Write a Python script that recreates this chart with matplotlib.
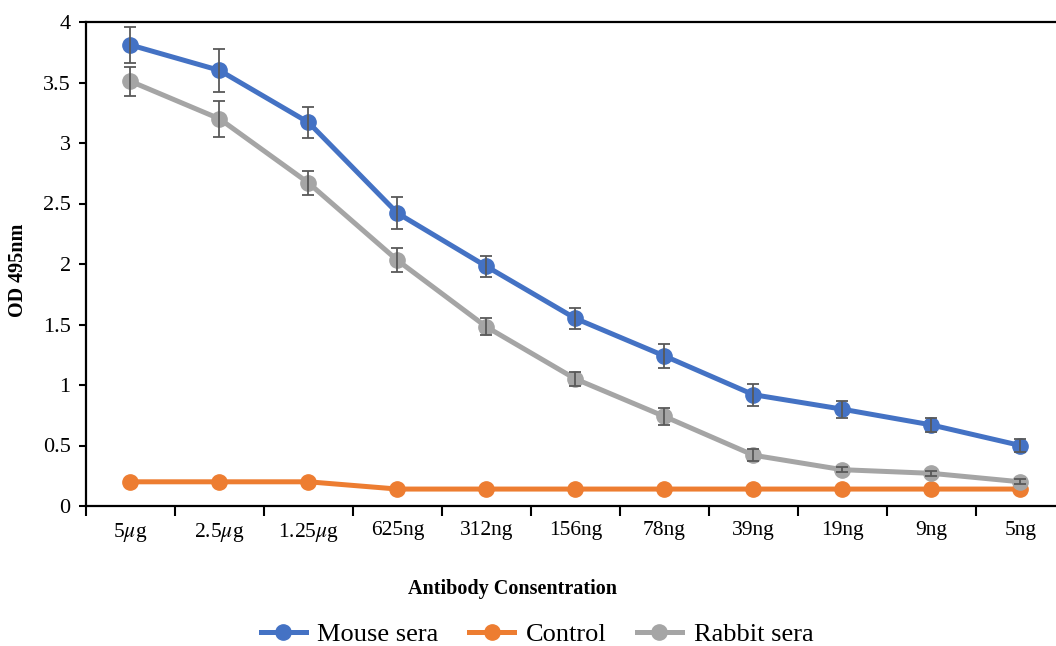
import numpy as np
import matplotlib
matplotlib.use("Agg")
import matplotlib.pyplot as plt

plt.rcParams['font.family'] = ['Liberation Serif', 'DejaVu Serif']
plt.rcParams['mathtext.fontset'] = 'stix'

# Data
concentrations = ['5$\\mu$g', '2.5$\\mu$g', '1.25$\\mu$g', '625ng', '312ng', '156ng',
                  '78ng', '39ng', '19ng', '9ng', '5ng']
mouse = [3.81, 3.60, 3.17, 2.42, 1.98, 1.55, 1.24, 0.92, 0.80, 0.67, 0.50]
mouse_err = [0.15, 0.18, 0.13, 0.13, 0.09, 0.09, 0.10, 0.09, 0.07, 0.06, 0.05]
control = [0.20, 0.20, 0.20, 0.14, 0.14, 0.14, 0.14, 0.14, 0.14, 0.14, 0.14]
rabbit = [3.51, 3.20, 2.67, 2.03, 1.48, 1.05, 0.74, 0.42, 0.30, 0.27, 0.20]
rabbit_err = [0.12, 0.15, 0.10, 0.10, 0.07, 0.06, 0.07, 0.05, 0.02, 0.02, 0.02]

blue = '#4472C4'
orange = '#ED7D31'
gray = '#A5A5A5'
err_color = '#595959'

fig = plt.figure(figsize=(10.56, 6.46), dpi=100)
ax = fig.add_axes([86 / 1056, 1 - 506 / 646, 1 - 86 / 1056, (506 - 22) / 646])

x = np.arange(len(concentrations))

ax.plot(x, mouse, color=blue, lw=3.6, marker='o', ms=11, label='Mouse sera', zorder=3)
ax.plot(x, control, color=orange, lw=3.6, marker='o', ms=11, label='Control', zorder=4)
ax.plot(x, rabbit, color=gray, lw=3.6, marker='o', ms=11, label='Rabbit sera', zorder=5)

ax.errorbar(x, mouse, yerr=mouse_err, fmt='none', ecolor=err_color, elinewidth=1.3,
            capsize=4, capthick=1.3, zorder=6)
ax.errorbar(x, rabbit, yerr=rabbit_err, fmt='none', ecolor=err_color, elinewidth=1.3,
            capsize=4, capthick=1.3, zorder=6)

ax.set_xlim(-0.5, 10.4)
ax.set_ylim(0, 4)
ax.set_yticks(np.arange(0, 4.01, 0.5))
ax.set_yticklabels(['0', '0.5', '1', '1.5', '2', '2.5', '3', '3.5', '4'])

# ticks between categories, labels at category centres
ax.set_xticks(np.arange(-0.5, 10.5, 1.0))
ax.set_xticklabels([])
ax.set_xticks(x, minor=True)
ax.set_xticklabels(concentrations, minor=True)
ax.tick_params(axis='x', which='major', direction='out', length=7, width=1.5)
ax.tick_params(axis='x', which='minor', length=0, pad=11, labelsize=15.5)
ax.tick_params(axis='y', direction='out', length=5, width=1.5, labelsize=16, pad=6)

for side in ['left', 'bottom', 'top']:
    ax.spines[side].set_linewidth(1.6)
ax.spines['right'].set_visible(False)

ax.set_ylabel('OD 495nm', fontsize=14.5, fontweight='bold')
ax.yaxis.set_label_coords(-0.06, 0.486)
ax.set_xlabel('Antibody Consentration', fontsize=14.5, fontweight='bold')
ax.xaxis.set_label_coords(0.44, -0.151)

fig.legend(loc='center', bbox_to_anchor=(537 / 1056, 1 - 634 / 646), ncol=3,
           frameon=False, fontsize=19, handlelength=1.7, handletextpad=0.45,
           columnspacing=1.15, borderaxespad=0)

fig.savefig('out.png', dpi=100)
